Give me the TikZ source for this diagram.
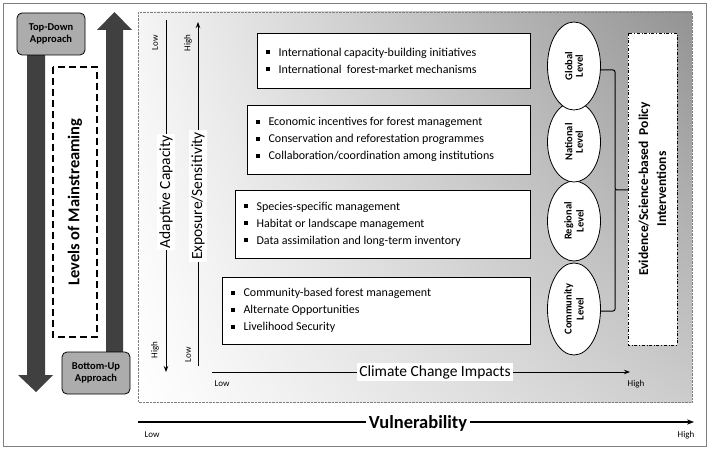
\documentclass[tikz,border=0pt]{standalone}
\usepackage{fontspec}
\setmainfont{Carlito}
\usetikzlibrary{arrows.meta,shapes.geometric,shadings}
\newcommand{\bl}{\rule[2pt]{4pt}{4pt}\hspace{9pt}}
\begin{document}
\begin{tikzpicture}[x=1pt,y=-1pt,
 appr/.style={draw,rounded corners=5pt,fill=gray!65,font=\bfseries\fontsize{10.5}{12}\selectfont,align=center,minimum width=68pt,minimum height=42pt,line width=0.8pt},
 lvl/.style={ellipse,draw,fill=white,minimum width=53pt,minimum height=84pt,inner sep=0pt,font=\bfseries\fontsize{10.5}{12}\selectfont,align=center,line width=0.8pt},
 small/.style={font=\fontsize{9}{10}\selectfont},
 axlab/.style={fill=white,font=\fontsize{15.5}{16}\selectfont,inner sep=2pt},
 itm/.style={font=\fontsize{12}{17}\selectfont,align=left}]
\useasboundingbox (0,0) rectangle (709,449);
\draw[gray,line width=0.8pt,fill=white] (3,3) rectangle (706,446);
% inner frame
\shade[upper right=gray!85,upper left=gray!8,lower left=white,lower right=gray!40] (138,12) rectangle (692,402);
\draw[densely dotted,gray] (138,12) rectangle (692,402);
% big arrows
\fill[black!75] (27,55) -- (45,55) -- (45,375) -- (53,375) -- (36,392) -- (18,375) -- (27,375) -- cycle;
\fill[black!75] (106,355) -- (123,355) -- (123,30) -- (132,30) -- (114.5,12) -- (97,30) -- (106,30) -- cycle;
\node[appr] (td) at (51,34) {Top-Down\\Approach};
\node[appr] (bu) at (96,373) {Bottom-Up\\Approach};
\draw[dash pattern=on 7pt off 4pt,line width=1.2pt,fill=white] (53,67) rectangle (97,337);
\node[rotate=90,font=\bfseries\fontsize{16.5}{18}\selectfont] (lm) at (75,202) {Levels of Mainstreaming};
% axes
\coordinate (a1) at (166,20); \coordinate (a2) at (166,372);
\draw[-{Stealth[length=6pt]},line width=1pt] (a1) -- (a2);
\node[axlab,rotate=90] (ac) at (166,192) {Adaptive Capacity};
\node[small,rotate=90] (al) at (155,43) {Low};
\node[small,rotate=90] (ah) at (155,350) {High};
\coordinate (e1) at (198,366); \coordinate (e2) at (198,22);
\draw[-{Stealth[length=6pt]},line width=1pt] (e1) -- (e2);
\node[axlab,rotate=90] (es) at (198,196) {Exposure/Sensitivity};
\node[small,rotate=90] (eh) at (188,43) {High};
\node[small,rotate=90] (el) at (188,355) {Low};
\coordinate (c1) at (212,372); \coordinate (c2) at (630,372);
\draw[-{Stealth[length=6pt]},line width=1pt] (c1) -- (c2);
\node[axlab] (cc) at (435,372) {Climate Change Impacts};
\node[small] (cl) at (222,384) {Low};
\node[small] (ch) at (636,384) {High};
\coordinate (v1) at (138,422); \coordinate (v2) at (694,422);
\draw[-{Stealth[length=7pt]},line width=1.5pt] (v1) -- (v2);
\node[fill=white,font=\bfseries\fontsize{18.5}{20}\selectfont,inner sep=3pt] (vu) at (418,423) {Vulnerability};
\node[small] (vl) at (152,435) {Low};
\node[small] (vh) at (686,435) {High};
% item boxes
\draw[line width=0.8pt,fill=white] (257,33) rectangle (530,88);
\node[itm,anchor=west] (b1) at (262,60.5) {\bl International capacity-building initiatives\\\bl International\ \ forest-market mechanisms};
\draw[line width=0.8pt,fill=white] (247,105) rectangle (530,174);
\node[itm,anchor=west] (b2) at (252,139.5) {\bl Economic incentives for forest management\\\bl Conservation and reforestation programmes\\\bl Collaboration/coordination among institutions};
\draw[line width=0.8pt,fill=white] (235,190) rectangle (530,258);
\node[itm,anchor=west] (b3) at (240,224) {\bl Species-specific management\\\bl Habitat or landscape management\\\bl Data assimilation and long-term inventory};
\draw[line width=0.8pt,fill=white] (222,277) rectangle (530,344);
\node[itm,anchor=west] (b4) at (227,310.5) {\bl Community-based forest management\\\bl Alternate Opportunities\\\bl Livelihood Security};
% levels
\node[lvl,minimum height=92pt] (co) at (574,309) {\rotatebox{90}{\shortstack{Community\\Level}}};
\node[lvl,minimum height=80pt] (re) at (574,221) {\rotatebox{90}{\shortstack{Regional\\Level}}};
\node[lvl,minimum height=80pt] (na) at (574,142) {\rotatebox{90}{\shortstack{National\\Level}}};
\node[lvl,minimum height=88pt] (gl) at (574,66) {\rotatebox{90}{\shortstack{Global\\Level}}};
% brace
\coordinate (g1) at (600,70); \coordinate (c3) at (600,311); \coordinate (br) at (628,190);
\draw[line width=1pt,rounded corners=2pt] (g1) -- (615,70) -- (615,190) -- (br);
\draw[line width=1pt,rounded corners=2pt] (c3) -- (615,311) -- (615,190);
% evidence
\draw[dash dot,line width=0.8pt,fill=white] (628,33) rectangle (677,345);
\node[rotate=90,font=\bfseries\fontsize{13.5}{18}\selectfont,align=center] (ev) at (652.5,189) {Evidence/Science-based\ \ Policy\\Interventions};
\end{tikzpicture}
\end{document}
